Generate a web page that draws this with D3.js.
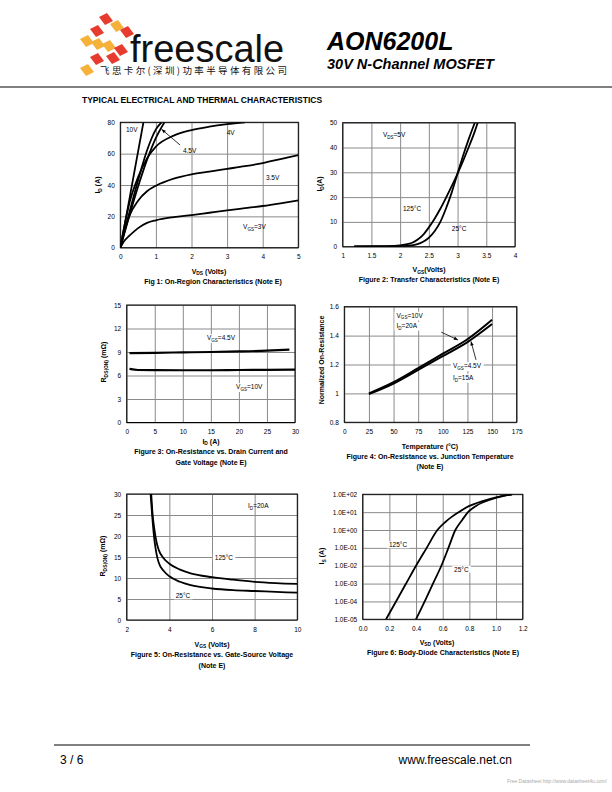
<!DOCTYPE html>
<html><head><meta charset="utf-8">
<script src="https://cdn.jsdelivr.net/npm/d3@7/dist/d3.min.js"></script>
<style>body{margin:0;background:#fff}svg{display:block}</style>
</head><body>
<svg id="s" width="612" height="792"></svg>
<script>
// ---------------- DATA ----------------
// Fig 1: On-region (VDS V, ID A)
const fig1_10V = [[0,0],[0.2,24],[0.4,49],[0.65,80]];
const fig1_6V  = [[0,0],[0.25,22],[0.5,43],[0.75,62],[1,75.5],[1.16,80]];
const fig1_45V = [[0,0],[0.25,20],[0.5,39],[0.75,56],[1,70],[1.24,80]];
const fig1_4V  = [[0,0],[0.1,12],[0.25,28],[0.5,45],[0.75,57],[1,64.5],[1.5,71.5],[2,75],[2.5,77.2],[3,78.8],[3.5,80]];
const fig1_35V = [[0,0],[0.1,9],[0.25,20],[0.5,30],[0.75,36],[1,39.5],[1.5,44],[2,46.8],[2.5,48.6],[3,50.3],[3.5,52],[4,54],[4.5,56.5],[5,59]];
const fig1_3V  = [[0,0],[0.1,4],[0.25,7.5],[0.5,12.5],[0.75,15.8],[1,17.5],[1.5,19.5],[2,20.8],[2.5,22.3],[3,23.8],[3.5,25.2],[4,26.6],[4.5,28.3],[5,30.2]];
const fig1_xTicks = [0,1,2,3,4,5];
const fig1_yTicks = [0,20,40,60,80];

// Fig 2: Transfer (VGS V, ID A)
const fig2_125 = [[1.2,0.15],[1.6,0.2],[1.9,0.3],[2.0,0.5],[2.1,0.9],[2.2,1.5],[2.3,2.8],[2.4,4.8],[2.5,7.8],[2.6,11.3],[2.7,15.3],[2.8,19.8],[2.9,24.5],[3.0,29.5],[3.1,34.8],[3.2,40.5],[3.3,46.5],[3.35,50]];
const fig2_25  = [[1.2,0.1],[1.6,0.1],[2.0,0.2],[2.2,0.5],[2.3,1.0],[2.4,2.0],[2.5,3.6],[2.6,6.2],[2.7,10],[2.8,15.5],[2.9,22],[3.0,29.5],[3.1,37],[3.2,43.8],[3.3,50]];
const fig2_xTicks = [1,1.5,2,2.5,3,3.5,4];
const fig2_yTicks = [0,10,20,30,40,50];

// Fig 3: RDS(ON) vs ID (A, mOhm)
const fig3_45V = [[0.5,8.85],[5,8.9],[10,8.95],[15,9.0],[20,9.07],[25,9.17],[29,9.3]];
const fig3_10V = [[0.5,6.85],[2,6.7],[5,6.68],[10,6.67],[15,6.67],[20,6.7],[25,6.72],[30,6.75]];
const fig3_xTicks = [0,5,10,15,20,25,30];
const fig3_yTicks = [0,3,6,9,12,15];

// Fig 4: normalized RDS(ON) vs Tj
const fig4_10V = [[25,1.0],[50,1.078],[75,1.175],[100,1.275],[125,1.375],[150,1.51]];
const fig4_45V = [[25,0.995],[50,1.068],[75,1.162],[100,1.258],[125,1.355],[150,1.48]];
const fig4_xTicks = [0,25,50,75,100,125,150,175];
const fig4_yTicks = [0.8,1.0,1.2,1.4,1.6];

// Fig 5: RDS(ON) vs VGS
const fig5_125 = [[3.15,30],[3.2,26],[3.3,21.5],[3.4,18.5],[3.5,16.7],[3.75,14.6],[4,13.4],[4.5,12],[5,11.1],[6,10.2],[7,9.6],[8,9.1],[9,8.8],[10,8.6]];
const fig5_25  = [[3.12,30],[3.2,24.5],[3.3,19],[3.4,15.7],[3.5,13.7],[3.75,11.6],[4,10.4],[4.5,9.1],[5,8.3],[6,7.5],[7,7.1],[8,6.9],[9,6.7],[10,6.5]];
const fig5_xTicks = [2,4,6,8,10];
const fig5_yTicks = [0,5,10,15,20,25,30];

// Fig 6: Body diode (VSD V, IS A)
const fig6_125 = [[0.175,1e-5],[0.25,1e-4],[0.325,1e-3],[0.4,1e-2],[0.48,1e-1],[0.56,1e0],[0.62,10**0.45],[0.67,10**0.75],[0.72,10**1.0],[0.8,10**1.35],[0.9,10**1.62],[1.0,10**1.83],[1.12,1e2]];
const fig6_25  = [[0.4,1e-5],[0.465,1e-4],[0.527,1e-3],[0.59,1e-2],[0.643,1e-1],[0.695,1e0],[0.745,10**0.55],[0.79,10**1.0],[0.85,10**1.35],[0.95,10**1.68],[1.05,10**1.9],[1.12,1e2]];
const fig6_xTicks = [0,0.2,0.4,0.6,0.8,1.0,1.2];
const fig6_yTicks = [1e-5,1e-4,1e-3,1e-2,1e-1,1e0,1e1,1e2];

// ---------------- DRAWING ----------------
const FONT = "'Liberation Sans', Arial, sans-serif";
const svg = d3.select('#s').attr('font-family', FONT);

// rich text helper: parts = [[text, isSub], ...]
function rich(g, x, y, parts, o = {}) {
  const fs = o.size || 6.5;
  const t = g.append('text').attr('x', x).attr('y', y).attr('font-size', fs)
    .attr('font-weight', o.bold ? 'bold' : 'normal').attr('text-anchor', o.anchor || 'start')
    .attr('fill', '#000');
  if (o.rotate) t.attr('transform', `rotate(-90,${x},${y})`);
  let sub = false;
  parts.forEach(([s, isSub]) => {
    const ts = t.append('tspan').text(s);
    if (isSub && !sub) { ts.attr('font-size', fs * 0.7).attr('dy', fs * 0.28); sub = true; }
    else if (!isSub && sub) { ts.attr('font-size', fs).attr('dy', -fs * 0.28); sub = false; }
    else if (isSub) ts.attr('font-size', fs * 0.7);
  });
  if (o.bg) {
    const b = t.node().getBBox();
    g.insert('rect', () => t.node()).attr('x', b.x - 2).attr('y', b.y).attr('width', b.width + 4)
      .attr('height', b.height).attr('fill', '#fff');
  }
  return t;
}

function panel(id, x, y, xTicks, yTicks, xFmt, yFmt, xGrid, yGrid) {
  const g = svg.append('g').attr('id', id);
  const [x0, x1] = x.range(), [y0, y1] = y.range();
  g.append('rect').attr('x', x0).attr('y', y1).attr('width', x1 - x0).attr('height', y0 - y1).attr('fill', '#fff');
  g.append('g').attr('transform', `translate(0,${y0})`)
    .call(d3.axisBottom(x).tickValues(xGrid).tickSize(-(y0 - y1)).tickFormat(''))
    .call(a => { a.select('.domain').remove(); a.selectAll('line').attr('stroke', '#8a8a8a').attr('stroke-width', 1); });
  g.append('g').attr('transform', `translate(${x0},0)`)
    .call(d3.axisLeft(y).tickValues(yGrid).tickSize(-(x1 - x0)).tickFormat(''))
    .call(a => { a.select('.domain').remove(); a.selectAll('line').attr('stroke', '#8a8a8a').attr('stroke-width', 1); });
  g.append('g').attr('transform', `translate(0,${y0})`)
    .call(d3.axisBottom(x).tickValues(xTicks).tickSize(0).tickPadding(7).tickFormat(xFmt))
    .call(a => { a.select('.domain').remove(); a.selectAll('text').attr('font-size', 6.5).attr('font-family', FONT).attr('fill', '#000'); });
  g.append('g').attr('transform', `translate(${x0},0)`)
    .call(d3.axisLeft(y).tickValues(yTicks).tickSize(0).tickPadding(5.5).tickFormat(yFmt))
    .call(a => { a.select('.domain').remove(); a.selectAll('text').attr('font-size', 6.5).attr('font-family', FONT).attr('fill', '#000'); });
  const clipId = id + 'clip';
  g.append('clipPath').attr('id', clipId).append('rect').attr('x', x0).attr('y', y1).attr('width', x1 - x0).attr('height', y0 - y1);
  const plot = g.append('g').attr('clip-path', `url(#${clipId})`);
  g.append('rect').attr('x', x0).attr('y', y1).attr('width', x1 - x0).attr('height', y0 - y1)
    .attr('fill', 'none').attr('stroke', '#000').attr('stroke-width', 1);
  return { g, plot, x, y };
}

function curve(p, data, w = 1.8) {
  p.plot.append('path').datum(data)
    .attr('d', d3.line().x(d => p.x(d[0])).y(d => p.y(d[1])).curve(d3.curveMonotoneX))
    .attr('fill', 'none').attr('stroke', '#000').attr('stroke-width', w).attr('stroke-linejoin', 'round');
}
function arrow(p, a, b) {
  const x1 = p.x(a[0]), y1 = p.y(a[1]), x2 = p.x(b[0]), y2 = p.y(b[1]);
  p.g.append('line').attr('x1', x1).attr('y1', y1).attr('x2', x2).attr('y2', y2).attr('stroke', '#000').attr('stroke-width', 0.8);
  const ang = Math.atan2(y2 - y1, x2 - x1), L = 4.5, s = 0.4;
  p.g.append('path').attr('d', `M${x2},${y2}L${x2 - L * Math.cos(ang - s)},${y2 - L * Math.sin(ang - s)}L${x2 - L * Math.cos(ang + s)},${y2 - L * Math.sin(ang + s)}Z`).attr('fill', '#000');
}
function title(x, y, parts, o = {}) { return rich(svg, x, y, parts, Object.assign({ size: 7, bold: true, anchor: 'middle' }, o)); }

const fmt = d => String(d);

// ---- Fig 1
{
  const p = panel('f1', d3.scaleLinear([0, 5], [120.3, 298.3]), d3.scaleLinear([0, 80], [247.7, 122.3]),
    fig1_xTicks, fig1_yTicks, fmt, fmt, fig1_xTicks, fig1_yTicks);
  [fig1_10V, fig1_6V, fig1_45V, fig1_4V, fig1_35V, fig1_3V].forEach(d => curve(p, d));
  rich(p.g, p.x(0.16), p.y(75.1) + 2.3, [['10V']]);
  rich(p.g, p.x(1.76), p.y(61.7) + 2.3, [['4.5V']]);
  rich(p.g, p.x(2.99), p.y(73.2) + 2.3, [['4V']]);
  rich(p.g, p.x(4.09), p.y(44.5) + 2.3, [['3.5V']]);
  rich(p.g, p.x(3.45), p.y(13.2) + 2.3, [['V'], ['GS', 1], ['=3V']]);
  arrow(p, [1.68, 65.5], [1.16, 75.5]);
  title(209, 273.5, [['V'], ['DS', 1], [' (Volts)']]);
  title(213, 283.5, [['Fig 1: On-Region Characteristics (Note E)']]);
  rich(svg, 100, 185, [['I'], ['D', 1], [' (A)']], { size: 7, bold: true, anchor: 'middle', rotate: true });
}
// ---- Fig 2
{
  const p = panel('f2', d3.scaleLinear([1, 4], [342.7, 515]), d3.scaleLinear([0, 50], [246.7, 122.7]),
    fig2_xTicks, fig2_yTicks, fmt, fmt, fig2_xTicks, fig2_yTicks);
  curve(p, fig2_125); curve(p, fig2_25);
  rich(p.g, p.x(1.7), p.y(45) + 2.3, [['V'], ['DS', 1], ['=5V']]);
  rich(p.g, p.x(2.05), p.y(15.2) + 2.3, [['125°C']]);
  rich(p.g, p.x(2.9), p.y(7.1) + 2.3, [['25°C']]);
  title(429, 272, [['V'], ['GS', 1], ['(Volts)']]);
  title(429, 282, [['Figure 2: Transfer Characteristics (Note E)']]);
  rich(svg, 322, 184, [['I'], ['D', 1], ['(A)']], { size: 7, bold: true, anchor: 'middle', rotate: true });
}
// ---- Fig 3
{
  const p = panel('f3', d3.scaleLinear([0, 30], [126.7, 295]), d3.scaleLinear([0, 15], [422.5, 305]),
    fig3_xTicks, fig3_yTicks, fmt, fmt, fig3_xTicks, fig3_yTicks);
  curve(p, fig3_45V, 2.2); curve(p, fig3_10V, 2.2);
  rich(p.g, p.x(14.3), p.y(10.8) + 2.3, [['V'], ['GS', 1], ['=4.5V']], { bg: true });
  rich(p.g, p.x(19.5), p.y(4.55) + 2.3, [['V'], ['GS', 1], ['=10V']], { bg: true });
  title(211, 443.5, [['I'], ['D', 1], [' (A)']]);
  title(211, 453.5, [['Figure 3: On-Resistance vs. Drain Current and']]);
  title(211, 464.5, [['Gate Voltage (Note E)']]);
  rich(svg, 106, 362, [['R'], ['DS(ON)', 1], [' (mΩ)']], { size: 7, bold: true, anchor: 'middle', rotate: true });
}
// ---- Fig 4
{
  const p = panel('f4', d3.scaleLinear([0, 175], [344.3, 516.7]), d3.scaleLinear([0.8, 1.6], [422.3, 306.7]),
    fig4_xTicks, fig4_yTicks, fmt, fmt, fig4_xTicks, fig4_yTicks);
  curve(p, fig4_10V, 2); curve(p, fig4_45V, 2);
  rich(p.g, p.x(53), p.y(1.54) + 2.3, [['V'], ['GS', 1], ['=10V']], { bg: true });
  rich(p.g, p.x(53), p.y(1.47) + 2.3, [['I'], ['D', 1], ['=20A']], { bg: true });
  rich(p.g, p.x(110.3), p.y(1.19) + 2.3, [['V'], ['GS', 1], ['=4.5V']], { bg: true });
  rich(p.g, p.x(110.3), p.y(1.11) + 2.3, [['I'], ['D', 1], ['=15A']], { bg: true });
  arrow(p, [98.4, 1.424], [115.4, 1.37]);
  arrow(p, [133.7, 1.232], [128.6, 1.36]);
  title(430, 448.5, [['Temperature (°C)']]);
  title(430, 458.5, [['Figure 4: On-Resistance vs. Junction Temperature']]);
  title(430, 468.5, [['(Note E)']]);
  rich(svg, 324, 360, [['Normalized On-Resistance']], { size: 7, bold: true, anchor: 'middle', rotate: true });
}
// ---- Fig 5
{
  const p = panel('f5', d3.scaleLinear([2, 10], [126.7, 297.3]), d3.scaleLinear([0, 30], [620, 494]),
    fig5_xTicks, fig5_yTicks, fmt, fmt, fig5_xTicks, fig5_yTicks);
  curve(p, fig5_125); curve(p, fig5_25);
  rich(p.g, p.x(7.69), p.y(27.1) + 2.3, [['I'], ['D', 1], ['=20A']]);
  rich(p.g, p.x(6.56), p.y(14.8) + 2.3, [['125°C']], { anchor: 'middle', bg: true });
  rich(p.g, p.x(4.64), p.y(5.7) + 2.3, [['25°C']], { anchor: 'middle', bg: true });
  title(212, 646.5, [['V'], ['GS', 1], [' (Volts)']]);
  title(212, 656.5, [['Figure 5: On-Resistance vs. Gate-Source Voltage']]);
  title(212, 667.5, [['(Note E)']]);
  rich(svg, 105, 556, [['R'], ['DS(ON)', 1], [' (mΩ)']], { size: 7, bold: true, anchor: 'middle', rotate: true });
}
// ---- Fig 6
{
  const p = panel('f6', d3.scaleLinear([0, 1.2], [362.7, 522.7]), d3.scaleLog([1e-5, 1e2], [619.3, 494.3]),
    fig6_xTicks, fig6_yTicks, d3.format('.1f'), d => d.toExponential(1).toUpperCase().replace(/E([+-])(\d)$/, 'E$10$2'), fig6_xTicks, fig6_yTicks);
  curve(p, fig6_125); curve(p, fig6_25);
  rich(p.g, p.x(0.265), p.y(10 ** -0.84) + 2.3, [['125°C']], { anchor: 'middle', bg: true });
  rich(p.g, p.x(0.74), p.y(10 ** -2.2) + 2.3, [['25°C']], { anchor: 'middle', bg: true });
  title(437, 644.5, [['V'], ['SD', 1], [' (Volts)']]);
  title(443, 654.5, [['Figure 6: Body-Diode Characteristics (Note E)']]);
  rich(svg, 324, 556, [['I'], ['S', 1], [' (A)']], { size: 7, bold: true, anchor: 'middle', rotate: true });
}

// ---------------- HEADER / FOOTER ----------------
const logoPieces = [
  [106, 19, '#e63b2e'], [117, 26, '#f6b13a'], [127, 32, '#e63b2e'],
  [97, 31, '#e63b2e'], [87, 41, '#f6b13a'], [98, 44, '#f6b13a'],
  [109, 46, '#f6b13a'], [121, 50, '#e63b2e'], [113, 58, '#e63b2e'],
  [97, 59, '#e63b2e'], [87, 70, '#f6b13a']
];
const logo = svg.append('g');
logoPieces.forEach(([cx, cy, c]) => {
  logo.append('path').attr('d', `M${cx - 7},${cy - 2}L${cx + 1},${cy - 6}L${cx + 7},${cy + 2}L${cx - 1},${cy + 6}Z`).attr('fill', c);
});
svg.append('text').attr('x', 130).attr('y', 62).attr('font-size', 38).attr('font-family', FONT).attr('fill', '#111').text('freescale');
svg.append('text').attr('x', 100).attr('y', 74).attr('font-size', 9.5).attr('font-family', "'Noto Sans CJK SC', sans-serif")
  .attr('textLength', 187).attr('lengthAdjust', 'spacing').attr('fill', '#111').text('飞思卡尔(深圳)功率半导体有限公司');
svg.append('text').attr('x', 327).attr('y', 50).attr('font-size', 25).attr('font-weight', 'bold').attr('font-style', 'italic').text('AON6200L');
svg.append('text').attr('x', 327).attr('y', 69).attr('font-size', 14.5).attr('font-weight', 'bold').attr('font-style', 'italic').text('30V N-Channel MOSFET');
svg.append('line').attr('x1', 0).attr('x2', 612).attr('y1', 87).attr('y2', 87).attr('stroke', '#000').attr('stroke-width', 1);
svg.append('text').attr('x', 82).attr('y', 103).attr('font-size', 8.5).attr('font-weight', 'bold').text('TYPICAL ELECTRICAL AND THERMAL CHARACTERISTICS');

svg.append('line').attr('x1', 54).attr('x2', 530).attr('y1', 745).attr('y2', 745).attr('stroke', '#000').attr('stroke-width', 1);
svg.append('text').attr('x', 60).attr('y', 764).attr('font-size', 12).text('3 / 6');
svg.append('text').attr('x', 512).attr('y', 764).attr('font-size', 12).attr('text-anchor', 'end').text('www.freescale.net.cn');
svg.append('text').attr('x', 607).attr('y', 783).attr('font-size', 5).attr('text-anchor', 'end').attr('fill', '#aaa').text('Free Datasheet http://www.datasheet4u.com/');
</script>
</body></html>
